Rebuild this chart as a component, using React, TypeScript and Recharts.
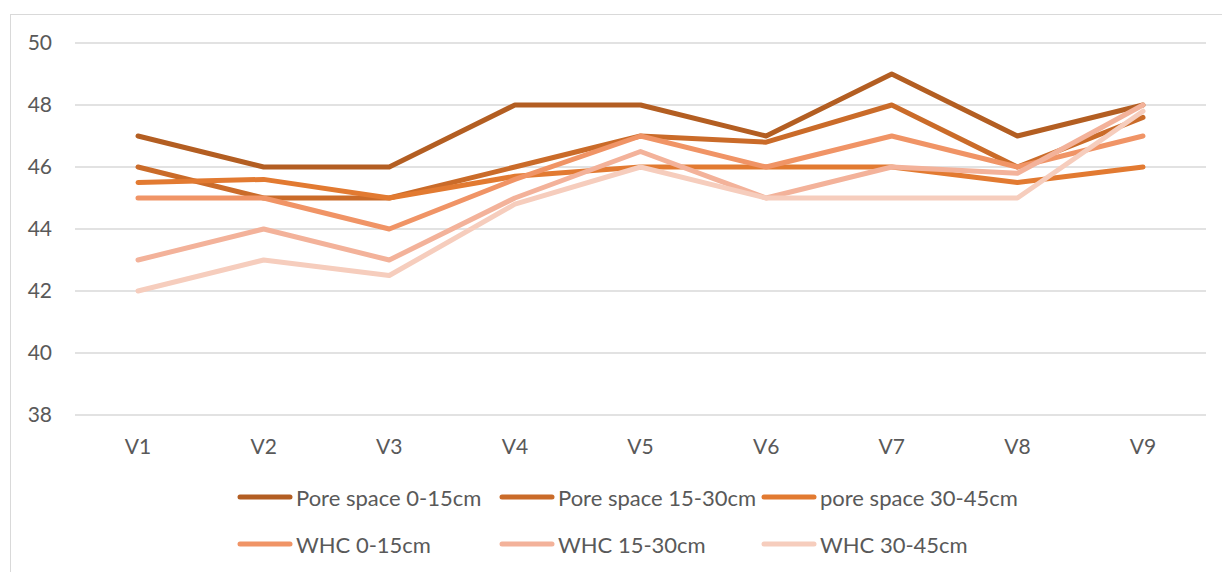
import React from 'react';
import { LineChart, Line, XAxis, YAxis, CartesianGrid, Legend } from 'recharts';

// categories and series
const CATEGORIES = ['V1', 'V2', 'V3', 'V4', 'V5', 'V6', 'V7', 'V8', 'V9'];
const PORE_0_15 = [47, 46, 46, 48, 48, 47, 49, 47, 48];
const PORE_15_30 = [46, 45, 45, 46, 47, 46.8, 48, 46, 47.6];
const PORE_30_45 = [45.5, 45.6, 45, 45.7, 46, 46, 46, 45.5, 46];
const WHC_0_15 = [45, 45, 44, 45.6, 47, 46, 47, 46, 47];
const WHC_15_30 = [43, 44, 43, 45, 46.5, 45, 46, 45.8, 48];
const WHC_30_45 = [42, 43, 42.5, 44.8, 46, 45, 45, 45, 47.8];
const Y_TICKS = [38, 40, 42, 44, 46, 48, 50];

const SERIES = [
    { key: 'pore0', name: 'Pore space 0-15cm', values: PORE_0_15, color: '#B35E22' },
    { key: 'pore15', name: 'Pore space 15-30cm', values: PORE_15_30, color: '#CA6B29' },
    { key: 'pore30', name: 'pore space 30-45cm', values: PORE_30_45, color: '#E27A31' },
    { key: 'whc0', name: 'WHC 0-15cm', values: WHC_0_15, color: '#F09466' },
    { key: 'whc15', name: 'WHC 15-30cm', values: WHC_15_30, color: '#F3B29A' },
    { key: 'whc30', name: 'WHC 30-45cm', values: WHC_30_45, color: '#F6CDBD' },
];

const chartData = CATEGORIES.map((name, i) => {
    const row: Record<string, string | number> = { name };
    SERIES.forEach((s) => { row[s.key] = s.values[i]; });
    return row;
});

const FONT = 'Lato, "Liberation Sans", sans-serif';
const TEXT_COLOR = '#595959';

// three columns, two rows, like the Excel legend
const GridLegend = () => (
    <div style={{ position: 'relative', width: 1222, height: 85, fontFamily: FONT }}>
        {SERIES.map((s, i) => {
            const col = i % 3;
            const row = Math.floor(i / 3);
            return (
                <div
                    key={s.key}
                    style={{
                        position: 'absolute',
                        left: 237 + col * 262,
                        top: row * 47,
                        height: 38,
                        display: 'flex',
                        alignItems: 'center',
                        whiteSpace: 'nowrap',
                    }}
                >
                    <svg width={56} height={10} style={{ marginRight: 3 }}>
                        <line x1={3} y1={5} x2={53} y2={5} stroke={s.color} strokeWidth={5} strokeLinecap="round" />
                    </svg>
                    <span style={{ fontSize: 22, color: TEXT_COLOR }}>{s.name}</span>
                </div>
            );
        })}
    </div>
);

export default function App() {
    return (
        <div style={{ position: 'absolute', left: 0, top: 0, width: 1222, height: 572, overflow: 'hidden', background: '#fff' }}>
            <div style={{ position: 'absolute', left: 10, top: 14, width: 1240, height: 600, border: '1px solid #d9d9d9' }} />
            <div style={{ position: 'absolute', left: 0, top: 0 }}>
                <LineChart
                    width={1222}
                    height={572}
                    data={chartData}
                    margin={{ top: 43, right: 16, left: 15, bottom: 42 }}
                    style={{ fontFamily: FONT }}
                >
                    <CartesianGrid vertical={false} stroke="#d9d9d9" strokeWidth={1.5} />
                    <XAxis
                        dataKey="name"
                        axisLine={false}
                        tickLine={false}
                        tickSize={0}
                        tickMargin={24}
                        height={30}
                        padding={{ left: 63, right: 63 }}
                        tick={{ fill: TEXT_COLOR, fontSize: 21 }}
                    />
                    <YAxis
                        domain={[38, 50]}
                        ticks={Y_TICKS}
                        axisLine={false}
                        tickLine={false}
                        tickSize={0}
                        tickMargin={23}
                        width={60}
                        tick={{ fill: TEXT_COLOR, fontSize: 21 }}
                    />
                    <Legend
                        verticalAlign="bottom"
                        content={<GridLegend />}
                        wrapperStyle={{ left: 0, top: 478, width: 1222 }}
                    />
                    {SERIES.map((s) => (
                        <Line
                            key={s.key}
                            type="linear"
                            dataKey={s.key}
                            name={s.name}
                            stroke={s.color}
                            strokeWidth={5}
                            strokeLinecap="round"
                            strokeLinejoin="round"
                            dot={false}
                            activeDot={false}
                            isAnimationActive={false}
                        />
                    ))}
                </LineChart>
            </div>
        </div>
    );
}
